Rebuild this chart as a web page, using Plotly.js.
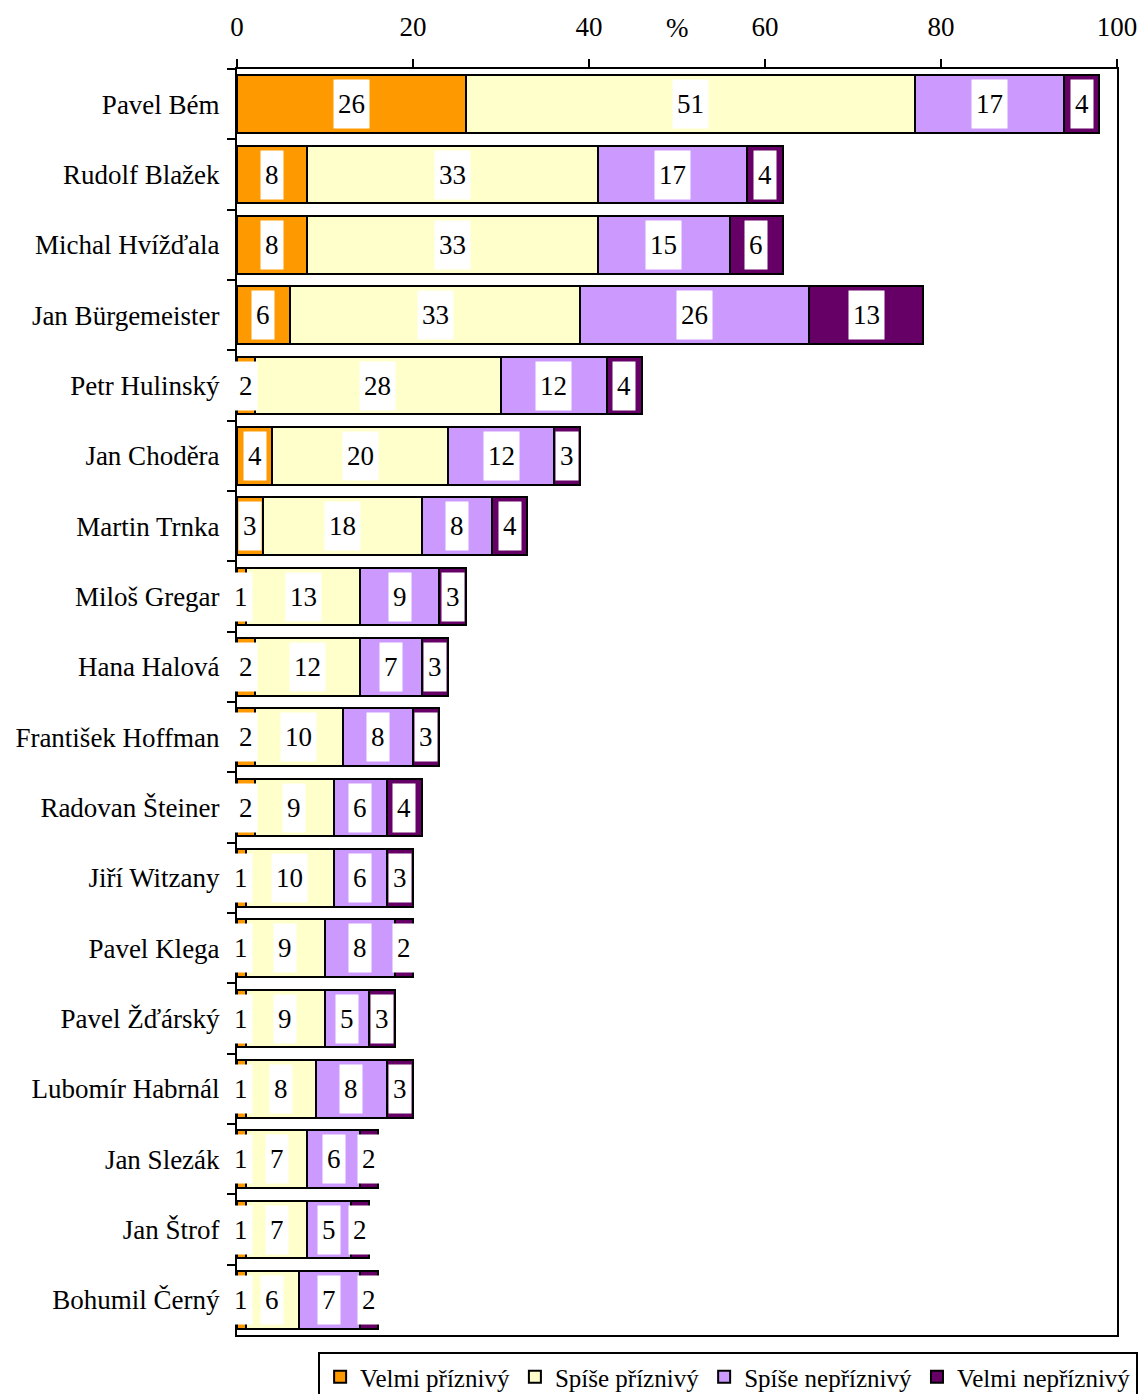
<!DOCTYPE html>
<html>
<head>
<meta charset="utf-8">
<script src="https://cdn.plot.ly/plotly-3.0.1.min.js"></script>
<style>html,body{margin:0;padding:0;background:#fff;}#chart{width:1141px;height:1394px;}</style>
</head>
<body>
<div id="chart"></div>
<script>
const names = ["Pavel Bém","Rudolf Blažek","Michal Hvížďala","Jan Bürgemeister","Petr Hulinský","Jan Choděra","Martin Trnka","Miloš Gregar","Hana Halová","František Hoffman","Radovan Šteiner","Jiří Witzany","Pavel Klega","Pavel Žďárský","Lubomír Habrnál","Jan Slezák","Jan Štrof","Bohumil Černý"];
const velmiPriznivy   = [26, 8, 8, 6, 2, 4, 3, 1, 2, 2, 2, 1, 1, 1, 1, 1, 1, 1];
const spisePriznivy   = [51,33,33,33,28,20,18,13,12,10, 9,10, 9, 9, 8, 7, 7, 6];
const spiseNepriznivy = [17,17,15,26,12,12, 8, 9, 7, 8, 6, 6, 8, 5, 8, 6, 5, 7];
const velmiNepriznivy = [ 4, 4, 6,13, 4, 3, 4, 3, 3, 3, 4, 3, 2, 3, 3, 2, 2, 2];
const seriesNames = ["Velmi příznivý","Spíše příznivý","Spíše nepříznivý","Velmi nepříznivý"];
const seriesColors = ["#FF9900","#FFFFCC","#CC99FF","#660066"];
const xTicks = [0,20,40,60,80,100];

const FONT = "Liberation Serif, Times New Roman, serif";
const FS = 27;
const series = [velmiPriznivy, spisePriznivy, spiseNepriznivy, velmiNepriznivy];

const traces = series.map((vals, i) => ({
  type: "bar",
  orientation: "h",
  name: seriesNames[i],
  y: names,
  x: vals,
  marker: {color: seriesColors[i], line: {color: "#000", width: 2}},
  hoverinfo: "x+y+name"
}));

const annotations = [];
names.forEach((n, r) => {
  let start = 0;
  series.forEach(vals => {
    const v = vals[r];
    annotations.push({
      x: start + v / 2, y: n, xref: "x", yref: "y",
      text: String(v), showarrow: false,
      bgcolor: "#ffffff", borderpad: 4,
      height: 40,
      font: {family: FONT, size: FS, color: "#000"}
    });
    start += v;
  });
});
annotations.push({
  x: 50, y: 1.0325, xref: "x", yref: "paper", yanchor: "middle",
  text: "%", showarrow: false,
  font: {family: FONT, size: FS, color: "#000"}
});

const layout = {
  width: 1141, height: 1394,
  margin: {l: 237, r: 24, t: 69, b: 59, autoexpand: false},
  paper_bgcolor: "#fff", plot_bgcolor: "#fff",
  font: {family: FONT, size: FS, color: "#000"},
  barmode: "stack",
  bargap: 0.176,
  showlegend: true,
  xaxis: {
    side: "top", range: [0, 100], tickvals: xTicks,
    ticks: "outside", ticklen: 8, tickwidth: 2, tickcolor: "#000",
    showline: true, linewidth: 2, linecolor: "#000", mirror: true,
    showgrid: false, zeroline: false, automargin: false,
    ticklabelstandoff: 12,
    tickfont: {family: FONT, size: FS, color: "#000"}
  },
  yaxis: {
    type: "category", autorange: "reversed",
    tickson: "boundaries",
    ticks: "outside", ticklen: 8, tickwidth: 2, tickcolor: "#000",
    showline: true, linewidth: 2, linecolor: "#000", mirror: true,
    showgrid: false, zeroline: false, automargin: false,
    ticklabelstandoff: 10,
    tickfont: {family: FONT, size: FS, color: "#000"}
  },
  legend: {
    orientation: "h", x: 1.024, xanchor: "right", y: -0.0135, yanchor: "top",
    bordercolor: "#000", borderwidth: 2, bgcolor: "#fff",
    font: {family: FONT, size: 25, color: "#000"},
    traceorder: "normal", itemwidth: 30
  },
  annotations: annotations
};

Plotly.newPlot("chart", traces, layout, {displayModeBar: false, staticPlot: true});
</script>
</body>
</html>
